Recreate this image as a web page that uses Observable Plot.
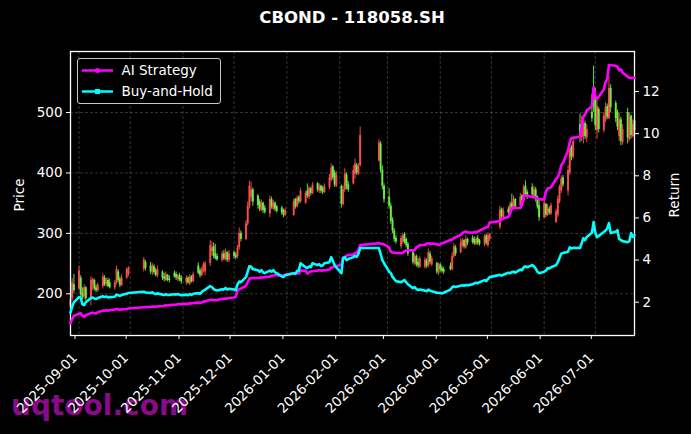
<!DOCTYPE html>
<html>
<head>
<meta charset="utf-8">
<script src="https://cdn.jsdelivr.net/npm/d3@7"></script>
<script src="https://cdn.jsdelivr.net/npm/@observablehq/plot@0.6"></script>
<style>
  html, body { margin: 0; padding: 0; background: #000; }
  #wrap { position: relative; width: 691px; height: 434px; overflow: hidden; background: #000; font-family: "DejaVu Sans", sans-serif; color: #fff; }
  #wrap > div.layer { position: absolute; left: 0; top: 0; }
  #title { position: absolute; left: 0; top: 8px; width: 704px; text-align: center; font-weight: bold; font-size: 16.5px; line-height: 20px; color: #fff; }
  #wm { position: absolute; left: 11px; top: 392px; font-weight: bold; font-size: 28px; line-height: 28px; color: #8a0a8a; white-space: nowrap; }
  .ylab { position: absolute; transform: translate(-50%, -50%) rotate(-90deg); font-size: 13.5px; line-height: 1; white-space: nowrap; color: #fff; }
  #legend { position: absolute; left: 76.5px; top: 58px; width: 144px; height: 46px; box-sizing: border-box; border: 1px solid #c8c8c8; border-radius: 3px; background: rgba(0,0,0,0.8); }
  #legend svg { position: absolute; left: 0; top: 0; }
  #legend span { position: absolute; left: 44px; font-size: 13.5px; line-height: 16px; color: #fff; white-space: nowrap; }
</style>
</head>
<body>
<div id="wrap">
  <div id="wm">uqtool.com</div>
  <div class="layer" id="price"></div>
  <div class="layer" id="ret"></div>
  <div id="title">CBOND - 118058.SH</div>
  <div class="ylab" style="left:20px; top:195px;">Price</div>
  <div class="ylab" style="left:675px; top:195px;">Return</div>
  <div id="legend">
    <svg width="142" height="44">
      <line x1="4" y1="11.5" x2="35" y2="11.5" stroke="#ff00ff" stroke-width="2.5"/>
      <circle cx="19.5" cy="11.5" r="2.5" fill="#ff00ff"/>
      <line x1="4" y1="32.5" x2="35" y2="32.5" stroke="#00ffff" stroke-width="2.5"/>
      <rect x="17" y="30" width="5" height="5" fill="#00ffff"/>
    </svg>
    <span style="top:3px;">AI Strategy</span>
    <span style="top:24px;">Buy-and-Hold</span>
  </div>
</div>
<script>
// ---- calendar (trading days) ----
const firstDay = "2025-08-27";
const lastDay = "2026-07-24";
const holidays = [
  "2025-10-01","2025-10-02","2025-10-03","2025-10-06","2025-10-07","2025-10-08",
  "2026-01-01","2026-01-02",
  "2026-02-16","2026-02-17","2026-02-18","2026-02-19","2026-02-20","2026-02-23",
  "2026-04-06",
  "2026-05-01","2026-05-04","2026-05-05",
  "2026-06-19"
];
const tickLabels = ["2025-09-01","2025-10-01","2025-11-01","2025-12-01","2026-01-01","2026-02-01",
  "2026-03-01","2026-04-01","2026-05-01","2026-06-01","2026-07-01"];
const priceTicks = [200, 300, 400, 500];
const returnTicks = [2, 4, 6, 8, 10, 12];

// ---- candles (price) ----
const open = [
178,192,215,
208,226,200,195,210,190,215,222,210,205,212,226,215,222,218,210,218,236,224,214,226,232,
240,252,246,236,245,238,230,236,228,222,230,224,234,232,224,230,226,
218,226,216,228,220,246,238,230,238,236,250,270,278,266,262,255,266,256,268,255,
268,264,262,276,300,290,316,345,360,372,362,352,338,350,342,332,356,340,350,344,342,338,330,
330,356,344,360,352,350,370,360,374,366,382,370,378,374,368,376,388,410,400,378,
378,348,372,396,380,382,398,412,398,412,420,448,405,378,
360,345,322,304,292,278,286,298,290,282,268,250,262,252,244,244,254,246,266,248,250,234,
248,242,240,246,240,262,276,268,280,288,276,290,292,290,282,292,288,282,296,280,290,
310,340,326,340,334,350,340,356,346,362,354,378,368,376,360,372,360,346,
326,348,330,340,332,318,330,352,370,392,370,400,442,426,480,458,460,482,458,500,540,
520,470,505,470,488,510,490,540,515,500,460,488,450,500,455,494,460,486
];
const high = [
195,225,232,
246,230,210,215,212,228,226,224,215,218,233,230,226,226,224,222,246,240,228,232,243,245,
260,255,252,250,248,242,246,238,234,236,232,230,238,236,232,234,230,
230,228,232,230,236,251,242,244,252,254,288,286,284,282,266,270,272,274,270,272,
271,268,280,309,304,321,352,387,385,375,364,356,355,352,346,362,360,354,352,346,345,340,342,
357,358,362,362,375,370,382,378,376,384,384,382,380,378,382,398,415,412,404,402,
380,378,407,400,386,412,423,416,415,476,455,452,412,382,
374,350,326,308,296,296,300,301,292,285,271,266,264,258,262,260,258,274,270,262,252,251,
250,246,244,251,268,283,280,291,292,290,296,292,296,294,294,296,290,298,298,301,300,
345,342,342,344,352,365,362,358,366,364,380,387,372,382,378,376,362,357,
357,350,348,344,350,340,362,380,395,396,412,453,446,461,498,494,490,486,480,530,577,
540,522,508,500,516,514,560,546,519,504,499,492,480,507,500,496,488,490
];
const low = [
172,188,200,
205,192,190,190,188,180,205,205,202,203,208,212,212,210,208,206,215,218,210,212,224,228,
236,238,232,230,232,228,226,222,220,220,220,218,226,222,220,220,216,
214,216,214,218,218,232,226,228,234,230,245,262,258,256,254,252,255,254,252,252,
258,256,258,272,286,288,312,340,352,345,340,336,336,333,332,326,340,338,336,334,330,326,328,
328,340,342,348,350,348,358,356,362,364,368,366,366,364,366,372,385,388,376,376,
342,345,368,372,368,380,390,396,396,410,418,400,372,350,
340,315,300,285,282,274,282,282,276,262,248,246,244,242,242,241,242,243,248,245,232,230,
236,234,232,238,238,258,262,266,276,274,274,280,282,280,280,280,279,278,280,276,286,
306,324,324,330,332,338,338,340,344,350,352,360,356,360,356,352,340,320,
324,326,328,330,330,316,326,349,366,376,362,396,420,423,450,452,448,455,450,484,500,
470,456,466,466,483,488,488,500,483,470,452,445,446,448,452,456,458,462
];
const close = [
190,218,205,
238,198,194,210,192,222,224,208,205,214,228,215,222,212,210,218,240,222,214,226,240,242,
256,242,236,246,235,230,240,226,224,232,222,222,228,226,230,222,220,
226,218,228,220,232,234,230,240,248,250,280,276,262,258,256,266,258,268,256,266,
262,260,276,300,290,316,345,378,372,352,346,340,350,338,335,356,344,350,340,336,334,330,338,
352,344,358,352,370,366,362,374,366,380,372,378,370,368,378,392,408,392,380,396,
348,372,398,378,372,404,415,400,410,462,450,405,378,356,
345,320,304,290,286,292,296,285,280,266,252,262,248,246,258,256,246,268,252,258,236,246,
240,237,236,240,262,278,266,284,288,278,290,284,285,283,290,284,282,294,284,296,298,
338,328,336,334,348,342,356,344,360,354,376,364,360,364,372,356,344,326,
350,330,342,334,346,336,356,376,390,380,404,440,426,452,460,486,482,460,472,490,510,
478,510,472,494,508,492,540,508,490,476,488,452,472,458,492,462,480,470
];

// ---- returns ----
const aiStrategy = [
1.0,1.2,1.35,
1.45,1.48,1.35,1.3,1.38,1.48,1.5,1.48,1.47,1.52,1.6,1.6,1.62,1.6,1.62,1.65,1.68,1.66,1.64,1.66,1.68,1.7,
1.76,1.76,1.78,1.8,1.79,1.78,1.8,1.82,1.83,1.85,1.84,1.86,1.88,1.88,1.9,1.9,1.91,
1.93,1.92,1.95,1.94,1.96,1.98,1.97,1.99,2.02,2.04,2.1,2.12,2.1,2.09,2.1,2.16,2.15,2.18,2.17,2.2,
2.22,2.26,2.55,2.62,2.65,2.78,2.95,3.12,3.14,3.14,3.15,3.16,3.18,3.17,3.19,3.22,3.26,3.27,3.28,3.28,3.27,3.28,3.3,
3.37,3.35,3.4,3.36,3.5,3.5,3.36,3.42,3.46,3.47,3.5,3.52,3.5,3.51,3.52,3.55,3.64,3.66,3.7,3.72,
3.78,4.1,4.14,4.2,4.24,4.26,4.33,4.35,4.5,4.71,4.8,4.78,4.76,4.74,
4.6,4.4,4.36,4.35,4.34,4.33,4.35,4.42,4.45,4.47,4.46,4.48,4.6,4.65,4.71,4.72,4.78,4.8,4.78,4.79,4.76,4.72,
4.74,4.8,4.82,4.95,4.98,5.05,5.08,5.2,5.28,5.33,5.34,5.32,5.3,5.33,5.32,5.35,5.4,5.52,5.55,5.58,5.78,
5.85,5.92,5.98,6.05,6.2,6.45,6.5,6.48,6.47,6.6,7.02,7.08,7.05,6.99,7.0,6.96,6.92,6.88,
6.88,7.25,7.4,7.42,7.45,7.85,7.94,8.15,8.5,8.6,9.2,9.6,9.79,9.8,9.85,10.3,10.8,10.9,11.1,11.3,12.2,
11.8,11.65,11.75,12.1,12.45,12.6,13.26,13.25,13.22,13.18,13.0,13.05,12.9,12.7,12.66,12.64,12.64,12.64
];
const buyHold = [
1.5,1.8,2.0,
2.24,2.2,1.9,1.86,2.0,2.2,2.22,2.18,2.15,2.2,2.28,2.24,2.27,2.23,2.24,2.26,2.36,2.33,2.3,2.34,2.4,2.44,
2.5,2.46,2.44,2.47,2.42,2.38,2.42,2.36,2.34,2.38,2.34,2.35,2.38,2.36,2.39,2.35,2.33,
2.36,2.33,2.38,2.35,2.4,2.43,2.4,2.48,2.55,2.6,2.76,2.72,2.62,2.58,2.56,2.62,2.6,2.67,2.6,2.64,
2.6,2.57,2.85,2.98,2.95,3.19,3.45,3.71,3.68,3.57,3.52,3.45,3.52,3.42,3.38,3.5,3.45,3.52,3.42,3.38,3.22,3.19,3.28,
3.38,3.35,3.48,3.5,3.85,3.66,3.62,3.7,3.66,3.85,3.76,3.8,3.72,3.74,3.85,3.9,4.14,3.95,3.76,3.65,
3.38,4.1,4.14,4.0,4.05,4.14,4.2,4.15,4.3,4.57,4.57,4.3,4.0,3.85,
3.45,3.38,3.2,3.1,3.0,2.95,3.0,3.05,2.95,2.85,2.67,2.72,2.62,2.58,2.6,2.55,2.52,2.6,2.55,2.52,2.45,2.45,
2.43,2.42,2.45,2.6,2.71,2.75,2.72,2.78,2.8,2.78,2.82,2.8,2.85,2.9,2.92,2.9,2.95,3.05,3.0,3.1,3.19,
3.3,3.26,3.3,3.4,3.38,3.43,3.45,3.4,3.55,3.52,3.66,3.7,3.66,3.76,3.7,3.6,3.45,3.38,
3.45,3.5,3.62,3.6,3.66,3.76,3.9,4.1,4.3,4.33,4.4,4.61,4.55,4.58,4.57,4.8,5.04,4.95,5.1,5.3,5.8,
5.3,5.09,5.15,5.33,5.4,5.5,5.75,5.28,5.35,5.42,5.0,4.95,4.9,4.85,4.9,5.28,5.1,5.18
];

// ---- build table ----
const parse = d3.utcParse("%Y-%m-%d");
const fmt = d3.utcFormat("%Y-%m-%d");
const hol = new Set(holidays);
const dates = d3.utcDay.range(parse(firstDay), d3.utcDay.offset(parse(lastDay), 1))
  .filter(d => d.getUTCDay() !== 0 && d.getUTCDay() !== 6 && !hol.has(fmt(d)));
const n = Math.min(dates.length, open.length, high.length, low.length, close.length, aiStrategy.length, buyHold.length);
const UP = "#ff5050", DOWN = "#6cf542";
const rows = d3.range(n).map(i => ({
  date: dates[i], open: open[i], high: high[i], low: low[i], close: close[i],
  ai: aiStrategy[i], bh: buyHold[i],
  color: close[i] >= open[i] ? UP : DOWN
}));
const monthTicks = tickLabels.map(parse);
const xDomain = [parse(firstDay), parse(lastDay)];

const common = {
  width: 691, height: 434,
  marginTop: 51, marginBottom: 99, marginLeft: 70, marginRight: 57,
  style: { background: "transparent", color: "#fff", fontFamily: "'DejaVu Sans', sans-serif", fontSize: "13.5px", overflow: "visible" }
};
const gridStyle = { stroke: "#8a8a8a", strokeOpacity: 0.55, strokeDasharray: "3,2", strokeWidth: 0.7 };

const pricePlot = Plot.plot({
  ...common,
  x: { type: "utc", domain: xDomain },
  y: { domain: [131, 601] },
  color: { type: "identity" },
  marks: [
    Plot.gridX(monthTicks, gridStyle),
    Plot.gridY(priceTicks, gridStyle),
    Plot.ruleX(rows, { x: "date", y1: "low", y2: "high", stroke: "color", strokeWidth: 1, strokeOpacity: 0.9 }),
    Plot.ruleX(rows, { x: "date", y1: "open", y2: "close", stroke: "color", strokeWidth: 2, strokeOpacity: 0.9 }),
    Plot.axisY(priceTicks, { anchor: "left", tickSize: 4, tickPadding: 4, label: null, stroke: "#fff", fill: "#fff" }),
    Plot.axisX(monthTicks, { anchor: "bottom", tickRotate: -45, tickFormat: fmt, tickSize: 4, tickPadding: 16, dx: -4, label: null, stroke: "#fff", fill: "#fff" }),
    Plot.frame({ stroke: "#fff", strokeWidth: 1.3 })
  ]
});
document.getElementById("price").appendChild(pricePlot);

const retPlot = Plot.plot({
  ...common,
  x: { type: "utc", domain: xDomain, axis: null },
  y: { domain: [0.42, 13.9] },
  marks: [
    Plot.lineY(rows, { x: "date", y: "ai", stroke: "#ff00ff", strokeWidth: 2.6, strokeLinejoin: "round" }),
    Plot.lineY(rows, { x: "date", y: "bh", stroke: "#00ffff", strokeWidth: 2.6, strokeLinejoin: "round" }),
    Plot.axisY(returnTicks, { anchor: "right", tickSize: 4, tickPadding: 4, label: null, stroke: "#fff", fill: "#fff" })
  ]
});
document.getElementById("ret").appendChild(retPlot);
</script>
</body>
</html>
